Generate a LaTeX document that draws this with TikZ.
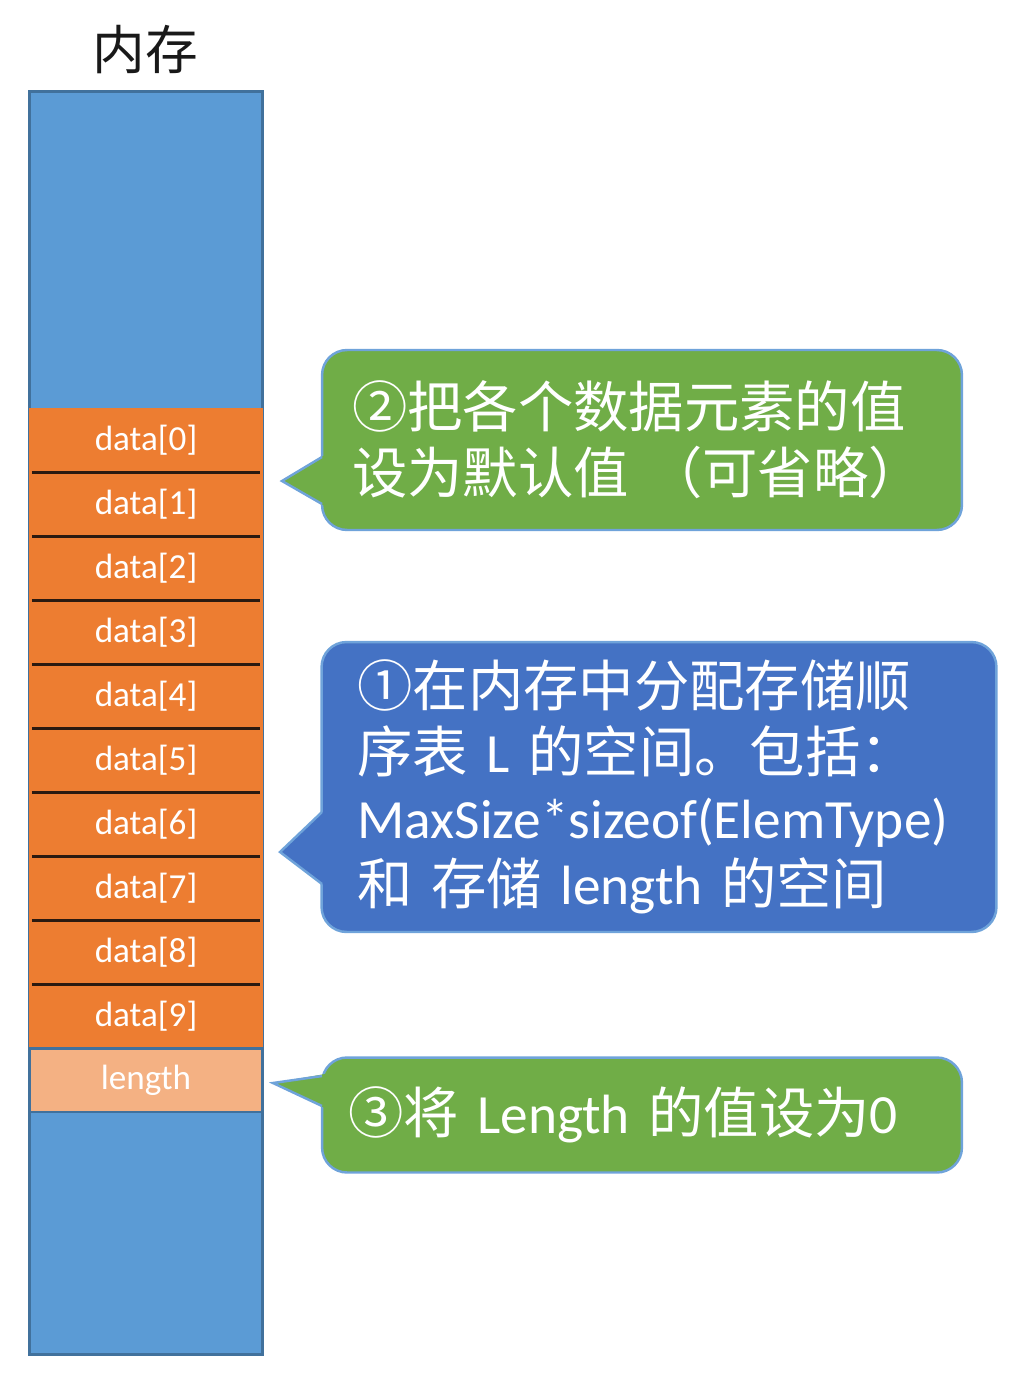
\documentclass[tikz,border=0pt]{standalone}
\usepackage{fontspec}
\usepackage{tikz}
\setmainfont{Carlito}
\newfontfamily\cjk{Noto Sans CJK SC}
\definecolor{memblue}{HTML}{5B9BD5}
\definecolor{memedge}{HTML}{41719C}
\definecolor{cellorange}{HTML}{ED7D31}
\definecolor{lenorange}{HTML}{F4B183}
\definecolor{celldark}{HTML}{2B1A10}
\definecolor{notegreen}{HTML}{70AD47}
\definecolor{noteblue}{HTML}{4472C4}
\definecolor{noteedge}{HTML}{6FA3DA}
\newcommand{\zcellfont}{\fontsize{20}{24}\selectfont}
\newcommand{\znotefont}{\fontsize{31.5}{37.5}\selectfont}
\newcommand{\zlat}[1]{{\rmfamily #1}}

\begin{document}
\begin{tikzpicture}[x=0.02cm,y=-0.02cm,style=thick]
			\useasboundingbox (0,0) rectangle (1024,1388);
			\tikzstyle{cell}=[fill=cellorange,text=white,font=\zcellfont,minimum width=4.68cm,minimum height=1.28cm,inner sep=0]
			\tikzstyle{note}=[draw=noteedge,line width=1.4pt,rounded corners=0.5cm,text=white,align=left,font={\cjk\znotefont},inner sep=0]
			% memory column
			\node[font={\cjk\fontsize{30}{36}\selectfont},text=black!90] (M) at (145,50) {内存};
			\node[draw=memedge,fill=memblue,line width=1.7pt,minimum width=4.68cm,minimum height=25.28cm,inner sep=0] (Mem) at (146,723) {};
			\node[cell] (D_0) at (146,440) {data[0]};
			\node[cell] (D_1) at (146,504) {data[1]};
			\node[cell] (D_2) at (146,568) {data[2]};
			\node[cell] (D_3) at (146,632) {data[3]};
			\node[cell] (D_4) at (146,696) {data[4]};
			\node[cell] (D_5) at (146,760) {data[5]};
			\node[cell] (D_6) at (146,824) {data[6]};
			\node[cell] (D_7) at (146,888) {data[7]};
			\node[cell] (D_8) at (146,952) {data[8]};
			\node[cell] (D_9) at (146,1016) {data[9]};
			\node[cell,fill=lenorange,draw=memedge,line width=1.7pt] (L) at (146,1080) {length};
			\begin{scope}[celldark,line width=1.7pt,shorten <=2pt,shorten >=2pt]
			\draw [-] (D_0.south west) -- (D_0.south east);
			\draw [-] (D_1.south west) -- (D_1.south east);
			\draw [-] (D_2.south west) -- (D_2.south east);
			\draw [-] (D_3.south west) -- (D_3.south east);
			\draw [-] (D_4.south west) -- (D_4.south east);
			\draw [-] (D_5.south west) -- (D_5.south east);
			\draw [-] (D_6.south west) -- (D_6.south east);
			\draw [-] (D_7.south west) -- (D_7.south east);
			\draw [-] (D_8.south west) -- (D_8.south east);
			\end{scope}
			% callouts
			\node[note,fill=notegreen,minimum width=12.8cm,minimum height=3.6cm,text width=11.6cm] (N_2) at (642,440)
				{②把各个数据元素的值\\设为默认值 （可省略）};
			\coordinate (T_2) at (282,481);
			\fill[notegreen] (325,455) -- (T_2) -- (325,506) -- cycle;
			\draw[noteedge,line width=1.4pt] (322,457) -- (T_2) -- (322,504);
			\node[note,fill=noteblue,minimum width=13.5cm,minimum height=5.8cm,text width=12.06cm] (N_1) at (659,787)
				{①在内存中分配存储顺\\序表 \zlat{L} 的空间。包括：\\\zlat{MaxSize*sizeof(ElemType)}\\和 存储 \zlat{length} 的空间};
			\coordinate (T_1) at (280,852);
			\fill[noteblue] (325,810) -- (T_1) -- (325,886) -- cycle;
			\draw[noteedge,line width=1.4pt] (322,812) -- (T_1) -- (322,884);
			\node[note,fill=notegreen,minimum width=12.8cm,minimum height=2.3cm,text width=11.76cm] (N_3) at (642,1115)
				{③将 \zlat{Length} 的值设为\zlat{0}};
			\coordinate (T_3) at (273,1083);
			\fill[notegreen] (325,1074) -- (T_3) -- (325,1108) -- cycle;
			\draw[noteedge,line width=1.4pt] (322,1076) -- (T_3) -- (322,1106);
		\end{tikzpicture}
\end{document}
